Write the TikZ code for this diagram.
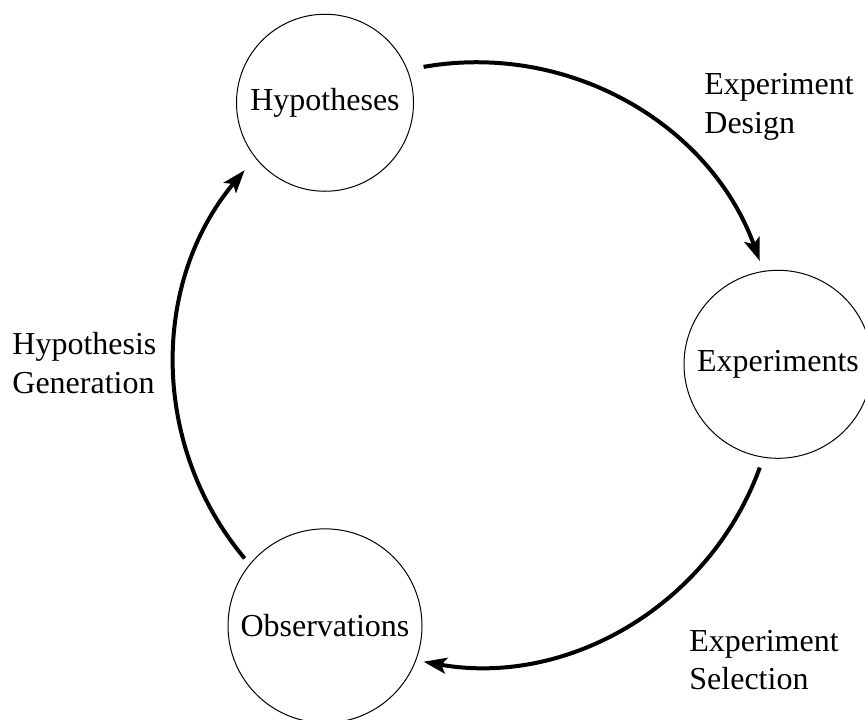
\documentclass[tikz,border=0pt]{standalone}
\usepackage{fontspec}
\setmainfont{Liberation Serif}
\usetikzlibrary{arrows.meta,calc}
\begin{document}
\begin{tikzpicture}[x=0.5pt,y=0.5pt,
  state/.style={circle, draw, line width=0.5pt, inner sep=0pt, font=\fontsize{16}{19.2}\selectfont},
  flow/.style={line width=2pt, -{Stealth[length=11.5pt,width=8pt,inset=2.5pt]}},
  lbl/.style={align=left, inner sep=0pt, font=\fontsize{16}{19.2}\selectfont, anchor=base west}]
\useasboundingbox (0,0) rectangle (865,719);
\coordinate (C) at (476,354.7);
\node[state, minimum size=88.5pt] (hyp) at ($(C)+(120:302)$) {Hypotheses};
\node[state, minimum size=94pt] (exp) at ($(C)+(0:302)$) {Experiments};
\node[state, minimum size=97pt] (obs) at ($(C)+(240:302)$) {Observations};
\coordinate (a1s) at ($(C)+(100:302)$);
\coordinate (a2s) at ($(C)+(-20:302)$);
\coordinate (a3s) at ($(C)+(220:302)$);
\draw[flow] (a1s) arc[start angle=100, end angle=20, radius=302];
\draw[flow] (a2s) arc[start angle=-20, end angle=-100, radius=302];
\draw[flow] (a3s) arc[start angle=220, end angle=140, radius=302];
\node[lbl] (ed) at (704,586) {Experiment\\Design};
\node[lbl] (hg) at (12,326) {Hypothesis\\Generation};
\node[lbl] (es) at (689,29.5) {Experiment\\Selection};
\end{tikzpicture}
\end{document}
